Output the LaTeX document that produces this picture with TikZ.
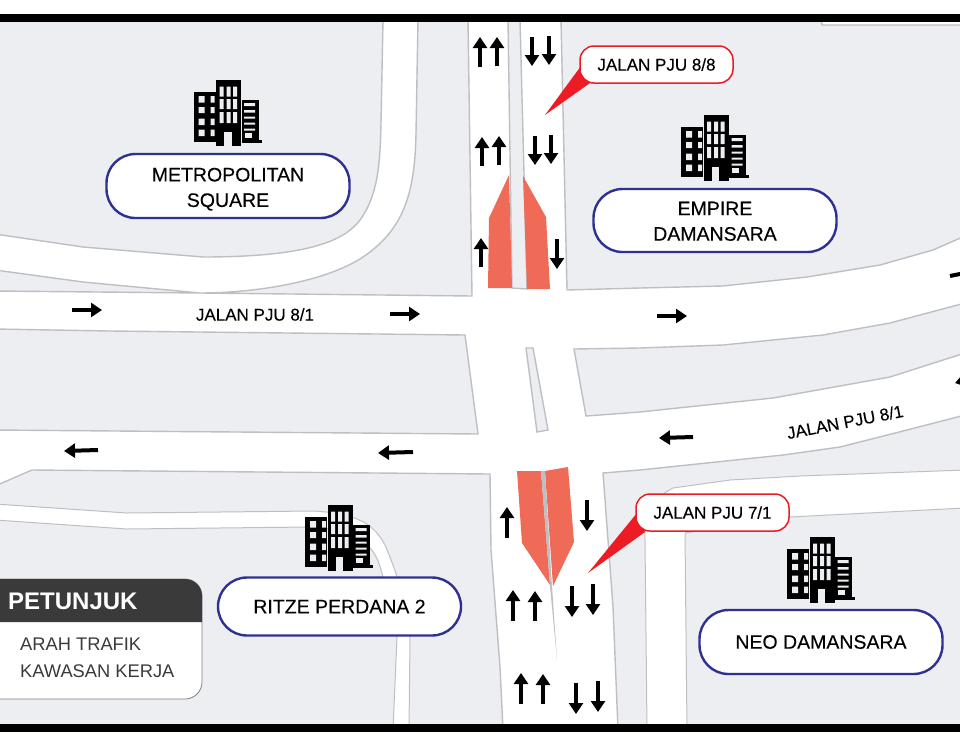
\documentclass[tikz,border=0pt]{standalone}
\usepackage{fontspec}
\setmainfont{Liberation Sans}
\newfontfamily\heavyfont[FakeBold=0.25]{Liberation Sans}
\usetikzlibrary{arrows.meta}
\definecolor{blockgray}{HTML}{ECEEF2}
\definecolor{edgegray}{HTML}{BDBFC3}
\definecolor{pillblue}{HTML}{2E3192}
\definecolor{tagred}{HTML}{ED1C24}
\definecolor{workred}{HTML}{EF6B58}
\definecolor{headdark}{HTML}{3A3A3A}
\tikzset{block/.style={draw=edgegray, fill=blockgray, line width=1.4pt}}
\tikzset{road/.style={draw=edgegray, fill=white, line width=1pt}}
\tikzset{workzone/.style={fill=workred}}
\tikzset{traffic/.style={line width=4pt, -{Triangle[length=11pt,width=14pt]}, black}}
\tikzset{pill/.style={draw=pillblue, fill=white, line width=2.4pt, rounded corners=29pt, minimum width=243pt, align=center, font=\heavyfont\fontsize{19.5}{25.5}\selectfont}}
\tikzset{tagbox/.style={draw=tagred, fill=white, line width=1.5pt, rounded corners=14pt, minimum width=153pt, minimum height=37pt, font=\heavyfont\fontsize{17}{20}\selectfont}}
\tikzset{roadname/.style={inner sep=0pt, font=\heavyfont\fontsize{17}{20}\selectfont}}
\tikzset{legendtext/.style={anchor=base west, inner sep=0pt, text=headdark, font=\fontsize{18.3}{22}\selectfont}}
\tikzset{building/.pic={
  \fill[black] (0,11.5) rectangle (22,62);
  \fill[black] (22.5,0) rectangle (47.5,66);
  \fill[black] (48,19.5) rectangle (65,63);
  \fill[black] (48,60) rectangle (68,63);
  \fill[blockgray] (5,16) rectangle (11,22.5) (17,16) rectangle (21,22.5) (5,27) rectangle (11,33) (17,27) rectangle (21,33);
  \fill[blockgray] (5,38.5) rectangle (11,45) (17,38.5) rectangle (21,45) (5,49.5) rectangle (11,56) (17,49.5) rectangle (21,56);
  \fill[blockgray] (26,6.5) rectangle (30,16.5) (33,6.5) rectangle (37,16.5) (39.5,6.5) rectangle (43.5,16.5);
  \fill[blockgray] (26,19) rectangle (30,29) (33,19) rectangle (37,29) (39.5,19) rectangle (43.5,29);
  \fill[blockgray] (26,32) rectangle (30,43) (33,32) rectangle (37,43) (39.5,32) rectangle (43.5,43);
  \fill[blockgray] (30.5,52) rectangle (38,66);
  \fill[blockgray] (50.5,23) rectangle (61.5,26) (50.5,30) rectangle (61.5,32.5) (50.5,36.5) rectangle (61.5,38.5) (50.5,42.5) rectangle (61.5,44.5) (50.5,48.5) rectangle (61.5,50.5);
  \fill[blockgray] (51,53) rectangle (58,58);
}}
\begin{document}
\begin{tikzpicture}[x=1pt, y=-1pt]

\clip (0,0) rectangle (960,750);
\fill[white] (0,0) rectangle (960,750);

% land blocks
\draw[block] (-5,20) -- (383,20) -- (381,123) .. controls (380,165) and (378,195) .. (360,220) .. controls (345,240) and (310,257) .. (203,257) -- (83,247) -- (-5,234) -- cycle;
\draw[block] (418,20) -- (468,20) -- (472,296) -- (200,293) -- (-5,291) -- (-5,270) -- (83,282) -- (200,293) .. controls (260,293) and (335,280) .. (370,252) .. controls (405,225) and (415,190) .. (416,133) -- cycle;
\draw[block] (561,20) -- (821,20) -- (822,25) -- (965,25) -- (965,236) -- (933,250) -- (880,265) -- (807,277) -- (723,286) -- (640,288) -- (567,290) -- cycle;
\draw[block] (508,20) -- (520,20) -- (527,289) -- (512,288) -- cycle;
\draw[block] (574,349) -- (640,348) -- (723,345) -- (823,335) -- (890,323) -- (965,303) -- (965,353) -- (890,377) -- (773,398) -- (640,412) -- (586,416) -- cycle;
\draw[block] (526,348) -- (533,348) -- (548,430) -- (537,432) -- cycle;
\draw[block] (-5,329) -- (110,331) -- (465,335) -- (478,434) -- (-5,430) -- cycle;
\draw[block] (-5,486) -- (32,470) -- (490,474) -- (491,550) -- (500,667) -- (503,730) -- (-5,730) -- cycle;
\draw[block] (603,473) -- (640,470) -- (783,455) -- (840,447) -- (907,430) -- (965,415) -- (965,730) -- (618,730) -- (613,607) -- (608,540) -- cycle;

% side roads
\draw[road] (-5,504) -- (127,513) -- (313,511) .. controls (350,513) and (372,520) .. (385,545) .. controls (398,575) and (408,610) .. (410,637) -- (409,730) -- (393,730) -- (397,637) .. controls (394,610) and (388,590) .. (383,577) .. controls (378,560) and (375,530) .. (310,527) -- (127,529) -- (-5,520) -- cycle;
\draw[road] (647,730) -- (645,540) .. controls (644,515) and (650,500) .. (673,488) -- (730,480) -- (800,476) -- (965,470) -- (965,508) -- (790,517) -- (685,533) -- (687,730) -- cycle;

% work zones
\fill[workzone] (509,175) -- (489,218) -- (488,288) -- (512,288) -- cycle;
\fill[workzone] (523,176) -- (546,217) -- (550,289) -- (527,289) -- cycle;
\fill[workzone] (517,471) -- (541,471) -- (550,585) -- (522,543) -- cycle;
\fill[workzone] (545,471) -- (568,467) -- (574,542) -- (553,586) -- cycle;
\fill[edgegray] (541,471) -- (545,471) -- (552,586) -- (557,660) -- (550,586) -- cycle;

% traffic direction
\draw[traffic] (480,67) -- (480,37);
\draw[traffic] (497,66) -- (497,37);
\draw[traffic] (532,37) -- (532,66);
\draw[traffic] (549,36) -- (549,65);
\draw[traffic] (482,166) -- (482,137);
\draw[traffic] (499,165) -- (499,136);
\draw[traffic] (535,136) -- (535,165);
\draw[traffic] (551,135) -- (551,164);
\draw[traffic] (481,267) -- (481,238);
\draw[traffic] (557,239) -- (557,269);

\draw[traffic] (507,538) -- (507,507);
\draw[traffic] (587,500) -- (587,531);
\draw[traffic] (513,621) -- (513,590);
\draw[traffic] (535,621) -- (535,591);
\draw[traffic] (572,586) -- (572,617);
\draw[traffic] (593,584) -- (593,615);
\draw[traffic] (521,704) -- (521,673);
\draw[traffic] (543,704) -- (543,674);
\draw[traffic] (576,683) -- (576,714);
\draw[traffic] (598,681) -- (598,712);

\draw[traffic] (72,310) -- (102,310);
\draw[traffic] (390,314) -- (420,314);
\draw[traffic] (657,316) -- (687,316);
\draw[traffic] (950,276) -- (980,270);
\draw[traffic] (693,437) -- (659,438);
\draw[traffic] (98,450) -- (64,451);
\draw[traffic] (413,452) -- (378,453);
\draw[traffic] (985,375) -- (955,383);

% road names
\node[roadname] (pju81w) at (255,314.5) {JALAN PJU 8/1};
\node[roadname, rotate=11] (pju81e) at (845,422) {JALAN PJU 8/1};

% buildings
\pic at (193.5,80) {building};
\pic at (681,115) {building};
\pic at (305,505) {building};
\pic at (787,537) {building};

\node[pill, minimum height=64pt] (metro) at (228,186) {\rule{0pt}{20pt}METROPOLITAN\\SQUARE};
\node[pill, minimum height=63pt] (empire) at (715,220.5) {\rule{0pt}{15pt}EMPIRE\\DAMANSARA};
\node[pill, minimum height=58pt] (ritze) at (339.5,606.5) {RITZE PERDANA 2};
\node[pill, minimum height=64pt] (neo) at (821,642) {NEO DAMANSARA};

% callouts
\coordinate (tip88) at (545,115);
\coordinate (tip71) at (588,573);
\fill[tagred] (tip88) -- (581,66) -- (590,83) -- cycle;
\fill[tagred] (tip71) -- (637,513) -- (645,532) -- cycle;
\node[tagbox] (pju88) at (656.5,64.5) {JALAN PJU 8/8};
\node[tagbox] (pju71) at (712.5,512.5) {JALAN PJU 7/1};

% legend
\draw[fill=white, draw=gray, line width=.8pt, rounded corners=17pt] (-10,579) -- (202,579) -- (202,699) -- (-10,699);
\fill[headdark] (-10,622) -- (-10,579) [rounded corners=17pt] -- (202,579) [sharp corners] -- (202,622) -- cycle;
\node[anchor=base west, inner sep=0pt, text=white, font=\fontsize{24}{28}\selectfont\bfseries] (legendhead) at (8,609) {PETUNJUK};
\node[legendtext] (legendone) at (20,650) {ARAH TRAFIK};
\node[legendtext] (legendtwo) at (20,677) {KAWASAN KERJA};

% frame bars
\fill[black] (0,14) rectangle (960,22);
\fill[black] (0,724) rectangle (960,732);

\end{tikzpicture}
\end{document}
